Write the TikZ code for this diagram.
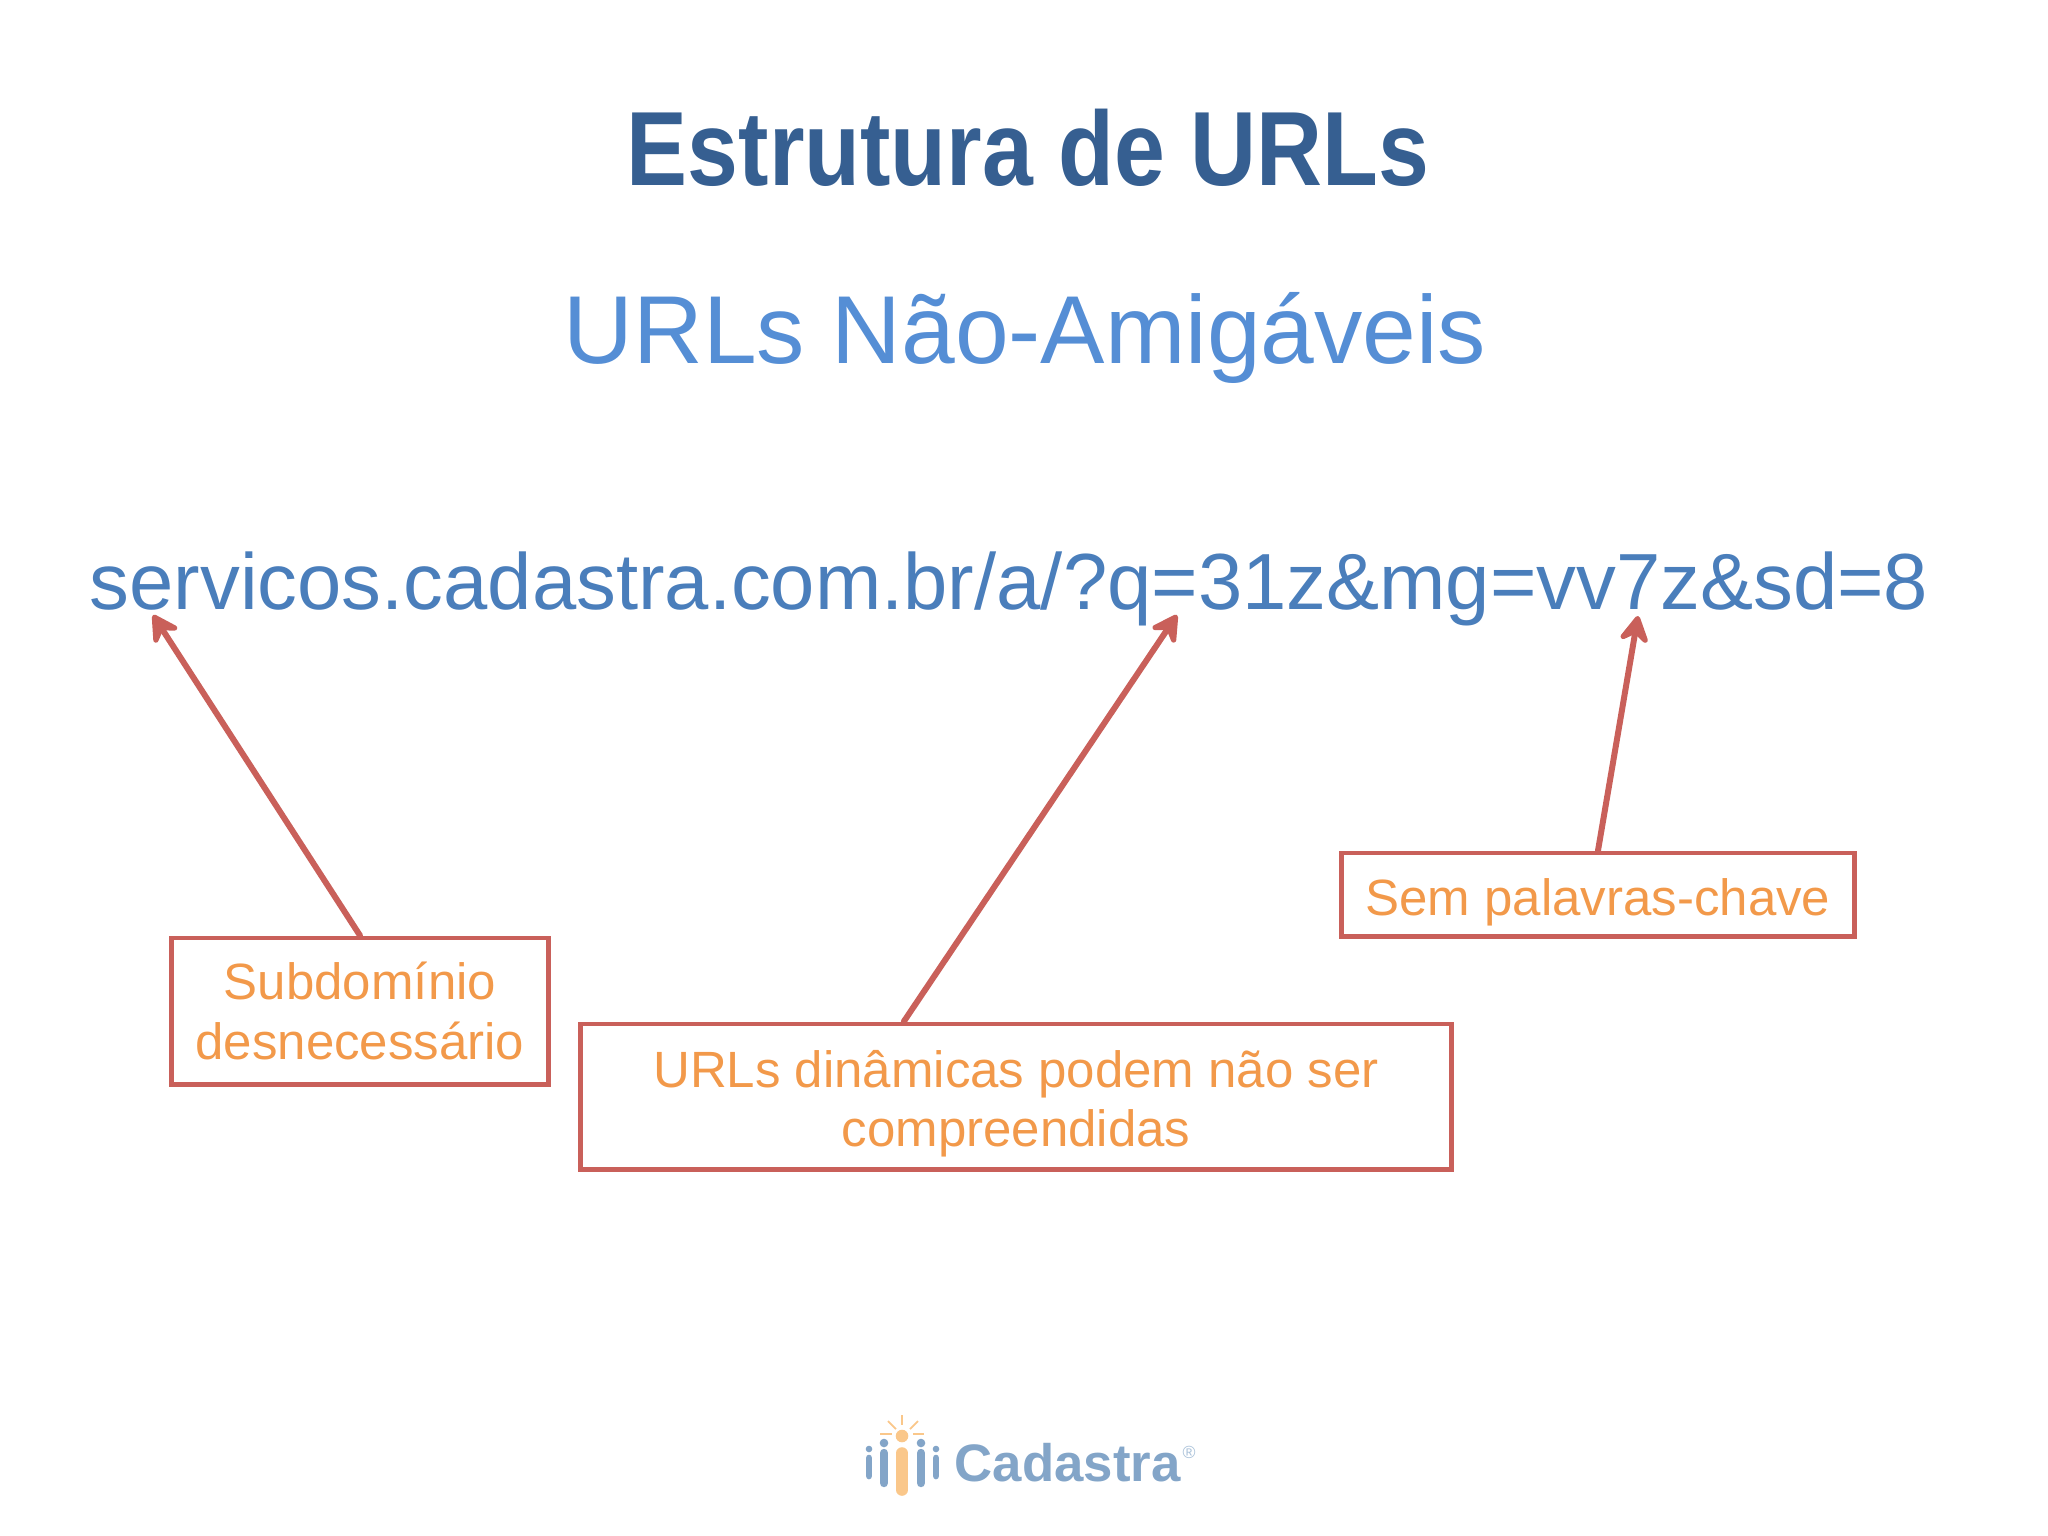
\documentclass[tikz,border=0pt]{standalone}
\usepackage{fontspec}
\setmainfont{Liberation Sans}
\usetikzlibrary{arrows.meta,calc}
\definecolor{titleblue}{HTML}{365F91}
\definecolor{subblue}{HTML}{558ED5}
\definecolor{urlblue}{HTML}{4A7EBB}
\definecolor{boxred}{HTML}{C9605A}
\definecolor{labelorange}{HTML}{F2994A}
\definecolor{logoblue}{HTML}{83A5C8}
\definecolor{logoorange}{HTML}{FAC78A}
\tikzset{
  x=0.01cm,y=-0.01cm,
  titletext/.style={inner sep=0pt,text=titleblue,font=\fontsize{30}{36}\selectfont\bfseries},
  subtext/.style={inner sep=0pt,text=subblue,font=\fontsize{27.45}{34}\selectfont},
  urltext/.style={inner sep=0pt,text=urlblue,font=\fontsize{22.64}{27}\selectfont},
  labelbox/.style={draw=boxred,line width=1.4pt,text=labelorange,align=center,inner sep=0pt,
    font=\fontsize{14.5}{16.9}\selectfont},
  pointer/.style={draw=boxred,line width=1.7pt,line cap=round,-{Stealth[length=9.5pt,width=10.5pt,inset=3.5pt,round]}},
  logobar/.style={line cap=round},
  logoray/.style={draw=logoorange,line width=0.5pt},
}
\begin{document}
\begin{tikzpicture}
\useasboundingbox (0,0) rectangle (2048,1536);
\node[titletext] (title) at (1028,148) {\scalebox{0.866}[1]{Estrutura de URLs}};
\node[subtext] (sub) at (1025,338) {URLs Não-Amigáveis};
\node[urltext] (url) at (1009,589) {servicos.cadastra.com.br/a/?q=31z\&mg=vv7z\&sd=8};
\node[labelbox,minimum width=3.76cm,minimum height=1.46cm] (b1) at (360,1011) {Subdomínio\\desnecessário};
\node[labelbox,minimum width=8.71cm,minimum height=1.45cm] (b2) at (1016,1096.5) {\rule{0pt}{14.5pt}URLs dinâmicas podem não ser\\compreendidas};
\node[labelbox,minimum width=5.13cm,minimum height=0.83cm] (b3) at (1598,894.5) {\rule{0pt}{15.1pt}Sem palavras-chave};
\coordinate (t1) at (153,615);
\coordinate (t2) at (1177,615);
\coordinate (t3) at (1638,616);
\draw[pointer] (b1.north) -- (t1);
\draw[pointer] ($(b2.north west)!0.372!(b2.north east)$) -- (t2);
\draw[pointer] (b3.north) -- (t3);
% logo
\draw[logobar,logoblue,line width=1.9pt] (869,1458) -- (869,1476);
\fill[logoblue] (869,1449) circle (3.3);
\draw[logobar,logoblue,line width=2.4pt] (884,1453) -- (884,1483);
\fill[logoblue] (884,1443) circle (4.3);
\draw[logobar,logoorange,line width=3.3pt] (902,1453) -- (902,1490);
\fill[logoorange] (902,1436) circle (6.3);
\draw[logobar,logoblue,line width=2.4pt] (921,1453) -- (921,1483);
\fill[logoblue] (921,1443) circle (4.3);
\draw[logobar,logoblue,line width=1.9pt] (936,1458) -- (936,1476);
\fill[logoblue] (936,1449) circle (3.3);
\draw[logoray] (902,1415) -- (902,1425);
\draw[logoray] (888,1421) -- (896,1429);
\draw[logoray] (918,1421) -- (910,1429);
\draw[logoray] (880,1434) -- (892,1434);
\draw[logoray] (913,1434) -- (924,1434);
\node[inner sep=0pt,anchor=base west,text=logoblue,font=\fontsize{15}{17}\selectfont\bfseries] (logotext) at (954,1481) {Cadastra};
\node[inner sep=0pt,text=logoblue!70,font=\fontsize{5}{6}\selectfont] (logoreg) at (1189,1452) {®};
\end{tikzpicture}
\end{document}
